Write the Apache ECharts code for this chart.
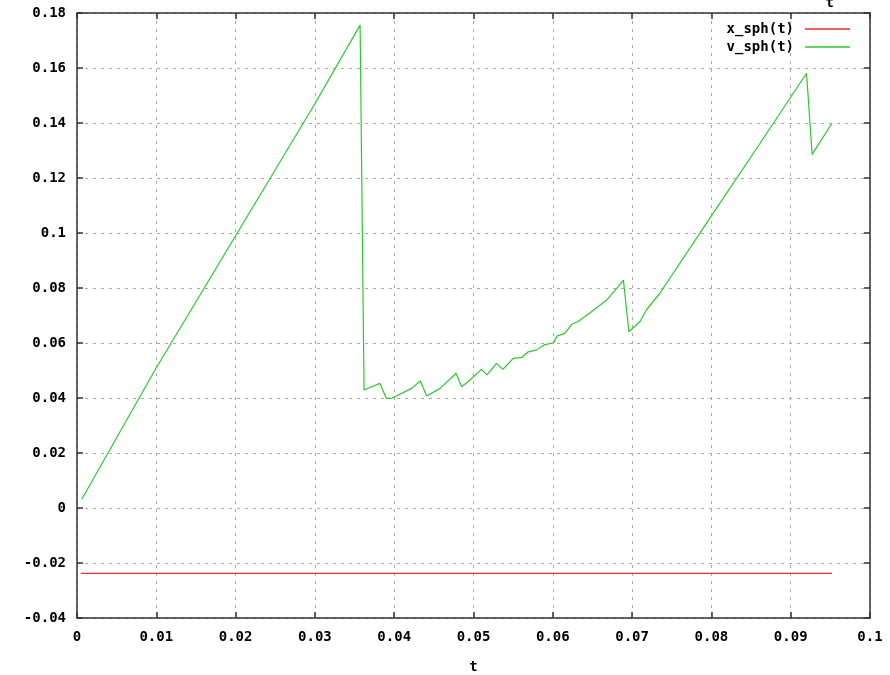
<!DOCTYPE html>
<html>
<head>
<meta charset="utf-8">
<script src="https://cdn.jsdelivr.net/npm/echarts@6/dist/echarts.min.js"></script>
<style>html,body{margin:0;padding:0;background:#fff}#c{width:890px;height:675px}</style>
</head>
<body>
<div id="c"></div>
<script>
var seriesNames = ['x_sph(t)', 'v_sph(t)'];
var xTime = [0.0005, 0.0952];
var xValues = [-0.02375, -0.02375];
var vTime = [0.0006, 0.010, 0.020, 0.030, 0.0357, 0.0362, 0.0382, 0.0390, 0.0397, 0.0422, 0.0433, 0.0441, 0.0458, 0.0478, 0.0485, 0.0493, 0.0510, 0.0517, 0.0529, 0.0537, 0.0550, 0.0561, 0.0569, 0.0580, 0.0589, 0.0601, 0.0605, 0.0615, 0.0624, 0.0632, 0.0647, 0.0668, 0.0683, 0.0689, 0.0696, 0.0710, 0.0718, 0.0735, 0.0800, 0.0860, 0.0920, 0.0927, 0.0952];
var vValues = [0.0032, 0.0510, 0.0990, 0.1470, 0.1756, 0.0429, 0.0453, 0.0399, 0.0399, 0.0435, 0.0462, 0.0407, 0.0435, 0.0490, 0.0441, 0.0459, 0.0504, 0.0484, 0.0526, 0.0504, 0.0544, 0.0548, 0.0568, 0.0575, 0.0593, 0.0601, 0.0625, 0.0635, 0.0668, 0.0678, 0.0710, 0.0756, 0.0807, 0.0829, 0.0641, 0.0678, 0.0720, 0.0781, 0.1062, 0.1320, 0.1581, 0.1286, 0.1399];
var xTicks = {min: 0, max: 0.1, interval: 0.01};
var yTicks = {min: -0.04, max: 0.18, interval: 0.02};

function pairs(t, v) { return t.map(function (x, i) { return [x, v[i]]; }); }
var font = 'DejaVu Sans Mono';
var fs = 14;
var axisCol = '#333';
var gridLine = {show: true, lineStyle: {color: '#aaa', type: [3, 5], width: 1}};
function fmt(v) { return String(+v.toFixed(2)); }

var chart = echarts.init(document.getElementById('c'));
chart.setOption({
  animation: false,
  backgroundColor: '#fff',
  title: {text: 't', right: 51, top: -9, textStyle: {fontFamily: font, fontWeight: 'bold', fontSize: fs, color: '#000'}},
  legend: {
    orient: 'vertical', right: 35, top: 17, align: 'right', itemWidth: 45, itemHeight: 1.5, itemGap: 4,
    icon: 'rect', data: seriesNames,
    textStyle: {fontFamily: font, fontWeight: 'bold', fontSize: fs, color: '#000', padding: [0, 6, 0, 0]}
  },
  grid: {left: 77, right: 20, top: 13, bottom: 57, containLabel: false, outerBoundsMode: 'none'},
  xAxis: [{
    type: 'value', min: xTicks.min, max: xTicks.max, interval: xTicks.interval,
    name: 't', nameLocation: 'middle', nameGap: 42,
    nameTextStyle: {fontFamily: font, fontWeight: 'bold', fontSize: fs, color: '#000'},
    axisLine: {show: true, onZero: false, lineStyle: {color: axisCol, width: 1.5}},
    axisTick: {show: true, inside: true, length: 6, lineStyle: {color: axisCol, width: 1.5}},
    axisLabel: {margin: 12, fontFamily: font, fontWeight: 'bold', fontSize: fs, color: '#000', formatter: fmt},
    splitLine: gridLine
  }, {
    type: 'value', position: 'top', min: xTicks.min, max: xTicks.max, interval: xTicks.interval,
    axisLine: {show: true, onZero: false, lineStyle: {color: axisCol, width: 1.5}},
    axisTick: {show: true, inside: true, length: 6, lineStyle: {color: axisCol, width: 1.5}},
    axisLabel: {show: false}, splitLine: {show: false}
  }],
  yAxis: [{
    type: 'value', min: yTicks.min, max: yTicks.max, interval: yTicks.interval,
    axisLine: {show: true, onZero: false, lineStyle: {color: axisCol, width: 1.5}},
    axisTick: {show: true, inside: true, length: 6, lineStyle: {color: axisCol, width: 1.5}},
    axisLabel: {margin: 11, fontFamily: font, fontWeight: 'bold', fontSize: fs, color: '#000', formatter: fmt},
    splitLine: gridLine
  }, {
    type: 'value', position: 'right', min: yTicks.min, max: yTicks.max, interval: yTicks.interval,
    axisLine: {show: true, onZero: false, lineStyle: {color: axisCol, width: 1.5}},
    axisTick: {show: true, inside: true, length: 6, lineStyle: {color: axisCol, width: 1.5}},
    axisLabel: {show: false}, splitLine: {show: false}
  }],
  series: [{
    name: seriesNames[0], type: 'line', showSymbol: false, symbol: 'none',
    data: pairs(xTime, xValues), color: '#f52a2a', lineStyle: {width: 1.2}
  }, {
    name: seriesNames[1], type: 'line', showSymbol: false, symbol: 'none',
    data: pairs(vTime, vValues), color: '#2ec82e', lineStyle: {width: 1.2}
  }]
});
</script>
</body>
</html>
